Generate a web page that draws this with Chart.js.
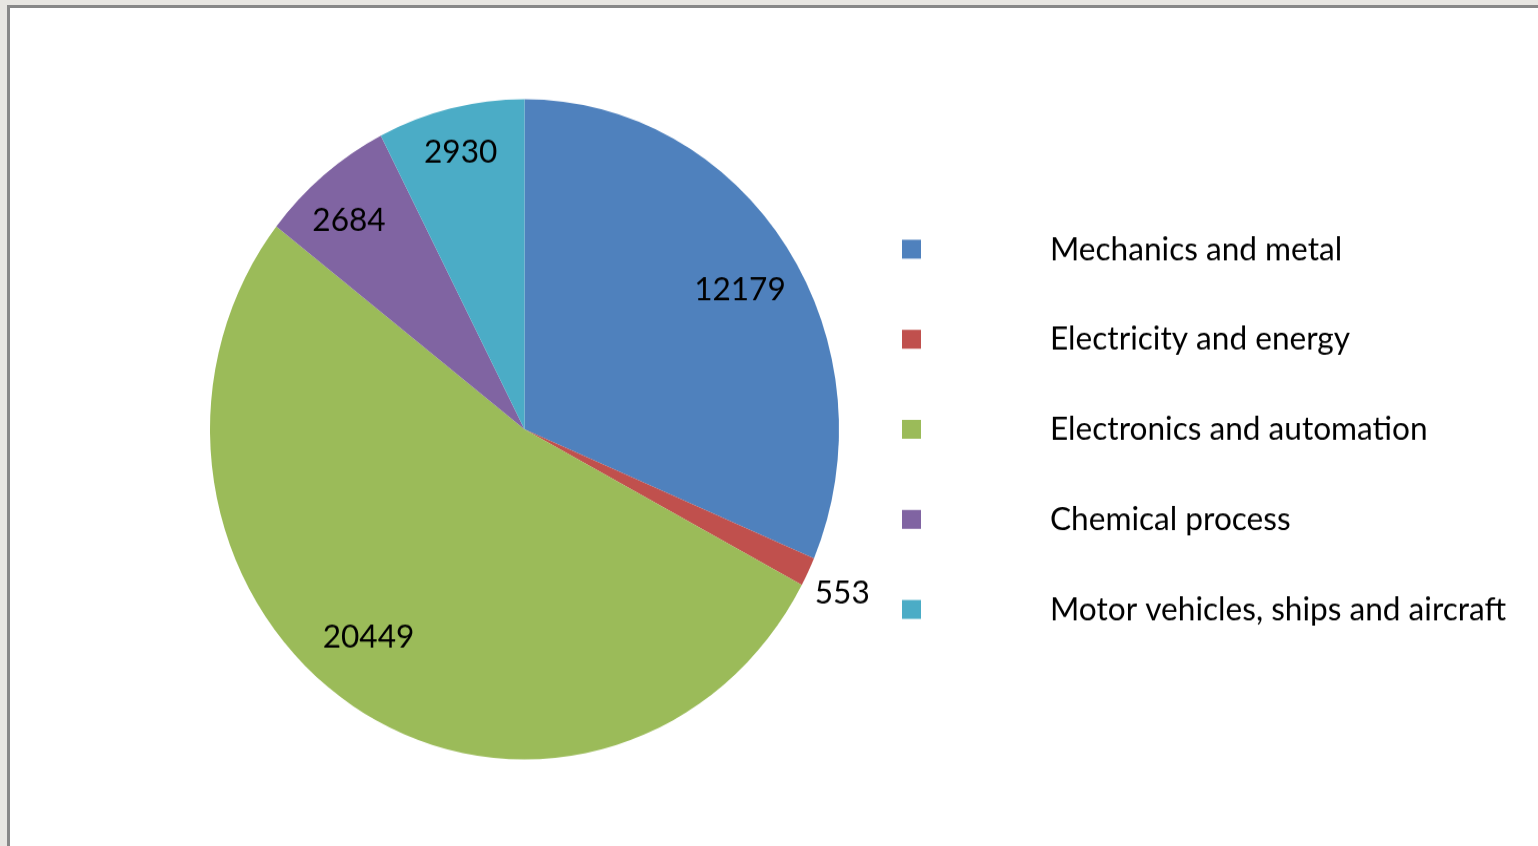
<!DOCTYPE html>
<html>
<head>
<meta charset="utf-8">
<script src="https://cdn.jsdelivr.net/npm/chart.js@4"></script>
<style>
    html, body { margin: 0; padding: 0; background: #e8e6e2; overflow: hidden; }
    #frame {
        position: absolute; left: 7px; top: 5px; width: 1600px; height: 900px;
        background: #fff; border-left: 3px solid #888; border-top: 3px solid #888;
    }
    #pie { position: absolute; left: 0; top: 0; }
</style>
</head>
<body>
<div id="frame"></div>
<!-- drawn at 806px high and shown at 846px: the original pie is a bit taller than wide -->
<canvas id="pie" width="1538" height="806" style="width:1538px;height:846px"></canvas>
<script>
const categories = [
    'Mechanics and metal',
    'Electricity and energy',
    'Electronics and automation',
    'Chemical process',
    'Motor vehicles, ships and aircraft'
];
const values = [12179, 553, 20449, 2684, 2930];
const colors = ['#4F81BD', '#C0504D', '#9BBB59', '#8064A2', '#4BACC6'];

// where each value label sits: share of the radius, and a small turn (degrees) off the slice middle
const labelDist = [0.806, 1.125, 0.80, 0.845, 0.864];
const labelTurn = [1.7, 0.5, 5.3, -1.7, 0];

const textPlugin = {
    id: 'pieText',
    afterDatasetsDraw(chart) {
        const ctx = chart.ctx;
        const meta = chart.getDatasetMeta(0);
        ctx.save();
        ctx.font = '31.6px Lato';
        ctx.fillStyle = '#000';
        ctx.textAlign = 'center';
        ctx.textBaseline = 'middle';
        meta.data.forEach((arc, i) => {
            const p = arc.getProps(['x', 'y', 'startAngle', 'endAngle', 'outerRadius']);
            const mid = (p.startAngle + p.endAngle) / 2 + labelTurn[i] * Math.PI / 180;
            const r = p.outerRadius * labelDist[i];
            ctx.fillText(String(values[i]), p.x + Math.cos(mid) * r, p.y + Math.sin(mid) * r);
        });

        // legend on the right, boxes far from the text like the original
        const boxX = 902, textX = 1050, firstY = 237.4, step = 85.8;
        ctx.textAlign = 'left';
        categories.forEach((name, i) => {
            const y = firstY + i * step;
            ctx.fillStyle = colors[i];
            ctx.fillRect(boxX, y - 9, 19, 18);
            ctx.fillStyle = '#000';
            ctx.fillText(name, textX, y);
        });
        ctx.restore();
    }
};

new Chart(document.getElementById('pie'), {
    type: 'pie',
    data: {
        labels: categories,
        datasets: [{
            data: values,
            backgroundColor: colors,
            borderWidth: 0
        }]
    },
    options: {
        responsive: false,
        animation: false,
        layout: { padding: { left: 210, right: 699, top: 94.5, bottom: 82.5 } },
        plugins: {
            legend: { display: false },
            tooltip: { enabled: false }
        }
    },
    plugins: [textPlugin]
});
</script>
</body>
</html>
